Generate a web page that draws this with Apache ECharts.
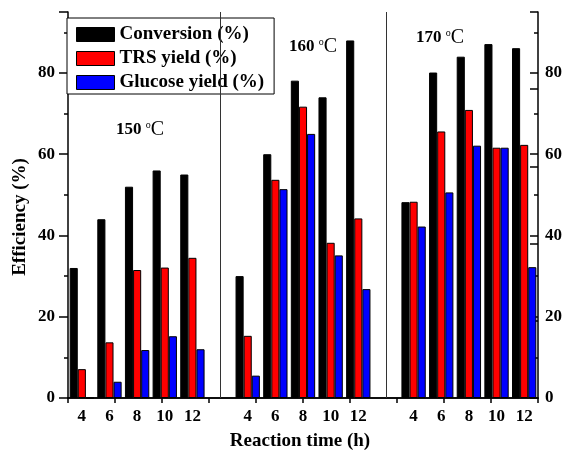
<!DOCTYPE html>
<html>
<head>
<meta charset="utf-8">
<script src="https://cdn.jsdelivr.net/npm/echarts@6/dist/echarts.min.js"></script>
<style>html,body{margin:0;padding:0;background:#fff;}#c{width:565px;height:451px;}</style>
</head>
<body>
<div id="c"></div>
<script>
const times = ['4', '6', '8', '10', '12'];
const temps = ['150', '160', '170'];
const conv150 = [32, 44, 52, 56, 55];
const trs150 = [7.1, 13.7, 31.5, 32.1, 34.5];
const glu150 = [0, 4.0, 11.8, 15.2, 12.0];
const conv160 = [30, 60, 78.1, 74, 88];
const trs160 = [15.3, 53.7, 71.7, 38.2, 44.2];
const glu160 = [5.5, 51.4, 65.0, 35.1, 26.8];
const conv170 = [48.2, 80.1, 84.0, 87.1, 86.1];
const trs170 = [48.3, 65.6, 70.9, 61.6, 62.3];
const glu170 = [42.2, 50.6, 62.1, 61.6, 32.2];
const yTicks = [0, 20, 40, 60, 80];

const categories = [];
temps.forEach((t, i) => {
  times.forEach(h => categories.push(t + '|' + h));
  if (i < temps.length - 1) categories.push('sep' + i);
});
function join(a, b, c) { return a.concat([null], b, [null], c); }

const FONT = 'Liberation Serif';
const border = { borderColor: '#000', borderWidth: 1 };
const axisStyle = { color: '#000', width: 1.5 };

const chart = echarts.init(document.getElementById('c'));
const barBase = { type: 'bar', barGap: 0, barCategoryGap: '12%', xAxisIndex: 0, yAxisIndex: 0 };
chart.setOption({
  animation: false,
  textStyle: { fontFamily: FONT },
  grid: { left: 68, right: 24, top: 12, bottom: 53 },
  legend: {
    left: 67, top: 18, orient: 'vertical',
    backgroundColor: '#fff', borderColor: '#000', borderWidth: 1,
    padding: [7, 10, 2, 9], itemGap: 5, itemWidth: 38, itemHeight: 14,
    icon: 'rect',
    itemStyle: border,
    textStyle: { fontFamily: FONT, fontWeight: 'bold', fontSize: 19, color: '#000' },
    data: ['Conversion (%)', 'TRS yield (%)', 'Glucose yield (%)']
  },
  xAxis: [{
    type: 'category', data: categories,
    axisLine: { lineStyle: axisStyle },
    axisTick: { alignWithLabel: true, interval: 0, length: 5, lineStyle: axisStyle },
    axisLabel: { interval: 0, margin: 10, fontFamily: FONT, fontWeight: 'bold', fontSize: 17, color: '#000',
      formatter: v => v.indexOf('|') >= 0 ? v.split('|')[1] : '' },
    splitLine: { show: false }
  }, {
    type: 'value', position: 'top', min: 0, max: 10, interval: 1,
    axisLine: { show: true, lineStyle: axisStyle },
    axisTick: { show: true, inside: true, length: 5, lineStyle: axisStyle },
    axisLabel: { show: false }, splitLine: { show: false }
  }],
  yAxis: [{
    type: 'value', min: 0, max: 95, interval: 20, position: 'left',
    axisLine: { show: true, lineStyle: axisStyle },
    axisTick: { show: true, length: 9, lineStyle: axisStyle },
    minorTick: { show: true, splitNumber: 2, length: 4, lineStyle: axisStyle },
    axisLabel: { margin: 13, fontFamily: FONT, fontWeight: 'bold', fontSize: 17, color: '#000', showMaxLabel: false,
      formatter: v => yTicks.indexOf(v) >= 0 ? String(v) : '' },
    splitLine: { show: false }
  }, {
    type: 'value', min: 0, max: 95, interval: 20, position: 'right',
    axisLine: { show: true, lineStyle: axisStyle },
    axisTick: { show: true, inside: true, length: 8, lineStyle: axisStyle },
    minorTick: { show: true, splitNumber: 2, length: 4, lineStyle: axisStyle },
    axisLabel: { margin: 7, fontFamily: FONT, fontWeight: 'bold', fontSize: 17, color: '#000', showMaxLabel: false,
      formatter: v => yTicks.indexOf(v) >= 0 ? String(v) : '' },
    splitLine: { show: false }
  }, {
    type: 'value', min: 0, max: 100, interval: 20, position: 'right',
    axisLine: { show: false },
    axisTick: { show: true, inside: true, length: 8, lineStyle: axisStyle },
    axisLabel: { show: false }, splitLine: { show: false }
  }],
  series: [
    Object.assign({}, barBase, {
      name: 'Conversion (%)', itemStyle: Object.assign({ color: '#000' }, border),
      data: join(conv150, conv160, conv170)
    }),
    Object.assign({}, barBase, {
      name: 'TRS yield (%)', itemStyle: Object.assign({ color: '#ff0000' }, border),
      data: join(trs150, trs160, trs170),
      markLine: {
        silent: true, symbol: 'none', label: { show: false },
        lineStyle: { color: '#333', width: 1, type: 'solid' },
        data: [{ xAxis: 5 }, { xAxis: 11 }]
      }
    }),
    Object.assign({}, barBase, {
      name: 'Glucose yield (%)', itemStyle: Object.assign({ color: '#0000ff' }, border),
      data: join(glu150, glu160, glu170)
    })
  ],
  graphic: [
    { left: 116, top: 120 }, { left: 289, top: 37 }, { left: 416, top: 28 }
  ].map((p, i) => ({
    type: 'text', left: p.left, top: p.top, z: 100,
    style: {
      text: '{n|' + temps[i] + ' }{s|o}{c|C}',
      rich: {
        n: { fontFamily: FONT, fontWeight: 'bold', fontSize: 17, fill: '#000', lineHeight: 20 },
        s: { fontFamily: FONT, fontSize: 10, fill: '#000', verticalAlign: 'top', lineHeight: 10 },
        c: { fontFamily: FONT, fontSize: 20, fill: '#000', lineHeight: 20 }
      }
    }
  })).concat([{
    type: 'text', x: 20, y: 217, rotation: Math.PI / 2, z: 100,
    style: { text: 'Efficiency (%)', fontFamily: FONT, fontWeight: 'bold', fontSize: 19, fill: '#000',
      align: 'center', verticalAlign: 'middle' }
  }, {
    type: 'text', x: 300, y: 441, z: 100,
    style: { text: 'Reaction time (h)', fontFamily: FONT, fontWeight: 'bold', fontSize: 19, fill: '#000',
      align: 'center', verticalAlign: 'middle' }
  }])
});
</script>
</body>
</html>
